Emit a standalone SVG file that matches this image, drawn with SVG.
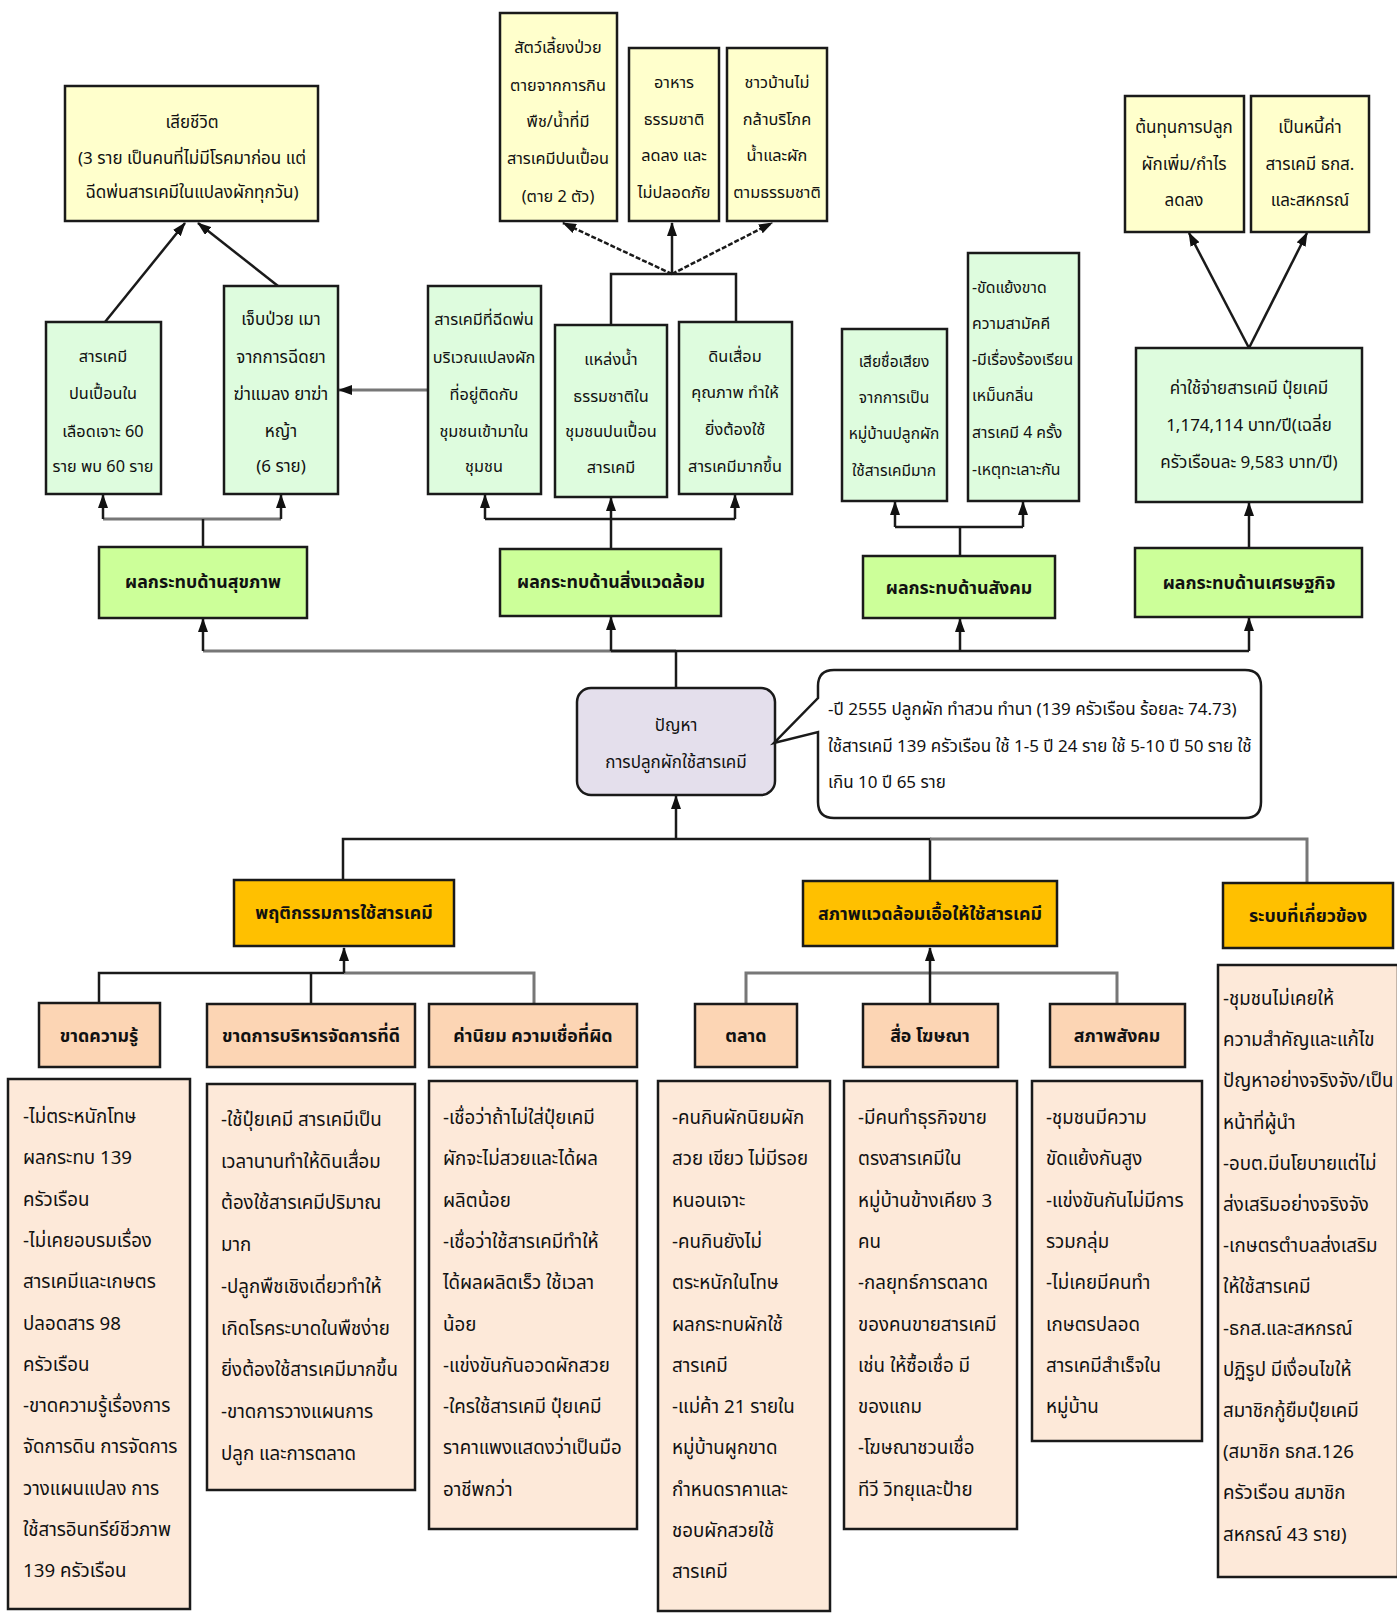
<svg xmlns="http://www.w3.org/2000/svg" width="1397" height="1614" viewBox="0 0 1397 1614">
<defs>
<marker id="ah" viewBox="0 0 14 10" refX="13" refY="5" markerWidth="14" markerHeight="10" markerUnits="userSpaceOnUse" orient="auto"><path d="M0,0 L14,5 L0,10 z" fill="#111"/></marker>
</defs>
<style>
text{font-family:"Noto Sans Thai","Noto Sans","DejaVu Sans",sans-serif;fill:#111;dominant-baseline:central}
.c{text-anchor:middle}
.s{font-size:17px}
.s2{font-size:16.3px}
.h{font-size:17.8px;font-weight:bold}
.d{font-size:18.7px}
.box{stroke:#1a1a1a;stroke-width:2.5}
.yl{fill:#FFFFCC}
.gn{fill:#DEFCDE}
.lg{fill:#CCFF99}
.or{fill:#FFC000}
.pc{fill:#FCD5B4}
.lp{fill:#FDE9D9}
.cn{fill:#E4DFEC}
.ln{fill:none;stroke:#1a1a1a;stroke-width:2.5}
.lgr{fill:none;stroke:#777;stroke-width:3}
.ar{marker-end:url(#ah)}
.ds{stroke-dasharray:5 2}
</style>

<g id="connectors">
<line class="ln ar" x1="105" y1="322" x2="185" y2="223"/>
<line class="ln ar" x1="278" y1="286" x2="198" y2="223"/>
<line class="lgr ar" x1="428" y1="390" x2="339" y2="390"/>
<polyline class="ln" points="611,325 611,274 736,274 736,322"/>
<line class="ln ar ds" x1="672" y1="274" x2="563" y2="223"/>
<line class="ln ar" x1="672" y1="274" x2="672" y2="223"/>
<line class="ln ar ds" x1="672" y1="274" x2="772" y2="223"/>
<line class="ln ar" x1="1249" y1="348" x2="1189" y2="233"/>
<line class="ln ar" x1="1249" y1="348" x2="1307" y2="233"/>
<polyline class="lgr" points="103,519 281,519"/>
<line class="ln ar" x1="103" y1="519" x2="103" y2="495"/>
<line class="ln ar" x1="281" y1="519" x2="281" y2="495"/>
<line class="ln" x1="203" y1="519" x2="203" y2="547"/>
<polyline class="ln" points="485,519 735,519"/>
<line class="ln ar" x1="485" y1="519" x2="485" y2="495"/>
<line class="ln ar" x1="611" y1="519" x2="611" y2="498"/>
<line class="ln ar" x1="735" y1="519" x2="735" y2="495"/>
<line class="ln" x1="611" y1="519" x2="611" y2="549"/>
<polyline class="ln" points="895,527 1023,527"/>
<line class="ln ar" x1="895" y1="527" x2="895" y2="502"/>
<line class="ln ar" x1="1023" y1="527" x2="1023" y2="502"/>
<line class="ln" x1="960" y1="527" x2="960" y2="556"/>
<line class="ln ar" x1="1249" y1="548" x2="1249" y2="503"/>
<polyline class="lgr" points="203,651 676,651"/>
<polyline class="ln" points="611,651 1249,651"/>
<line class="ln ar" x1="203" y1="651" x2="203" y2="619"/>
<line class="ln ar" x1="611" y1="651" x2="611" y2="617"/>
<line class="ln ar" x1="960" y1="651" x2="960" y2="619"/>
<line class="ln ar" x1="1249" y1="651" x2="1249" y2="618"/>
<line class="ln" x1="676" y1="688" x2="676" y2="651"/>
<polyline class="ln" points="343,880 343,839 930,839 930,881"/>
<polyline class="lgr" points="930,839 1307,839 1307,883"/>
<line class="ln ar" x1="676" y1="839" x2="676" y2="796"/>
<polyline class="ln" points="99,1003 99,973 344,973"/>
<polyline class="lgr" points="344,973 534,973 534,1004"/>
<line class="ln" x1="311" y1="973" x2="311" y2="1004"/>
<line class="ln ar" x1="344" y1="973" x2="344" y2="948"/>
<polyline class="lgr" points="746,1004 746,973 1117,973 1117,1004"/>
<line class="ln ar" x1="930" y1="1004" x2="930" y2="948"/>
</g>

<g id="n-death"><rect class="box yl" x="65" y="86" width="253" height="135"/>
<text class="s c"><tspan x="192" y="123">เสียชีวิต</tspan><tspan x="192" y="159">(3 ราย เป็นคนที่ไม่มีโรคมาก่อน แต่</tspan><tspan x="192" y="193">ฉีดพ่นสารเคมีในแปลงผักทุกวัน)</tspan></text></g>

<g id="n-pets"><rect class="box yl" x="500" y="13" width="117" height="208"/>
<text class="s2 c"><tspan x="558" y="48">สัตว์เลี้ยงป่วย</tspan><tspan x="558" y="86">ตายจากการกิน</tspan><tspan x="558" y="122">พืช/น้ำที่มี</tspan><tspan x="558" y="159">สารเคมีปนเปื้อน</tspan><tspan x="558" y="197">(ตาย 2 ตัว)</tspan></text></g>

<g id="n-food"><rect class="box yl" x="629" y="48" width="90" height="173"/>
<text class="s2 c"><tspan x="674" y="83">อาหาร</tspan><tspan x="674" y="120">ธรรมชาติ</tspan><tspan x="674" y="156">ลดลง และ</tspan><tspan x="674" y="193">ไม่ปลอดภัย</tspan></text></g>

<g id="n-villagers"><rect class="box yl" x="727" y="48" width="100" height="173"/>
<text class="s2 c"><tspan x="777" y="83">ชาวบ้านไม่</tspan><tspan x="777" y="120">กล้าบริโภค</tspan><tspan x="777" y="156">น้ำและผัก</tspan><tspan x="777" y="193">ตามธรรมชาติ</tspan></text></g>

<g id="n-cost"><rect class="box yl" x="1125" y="96" width="119" height="136"/>
<text class="s c"><tspan x="1184" y="128">ต้นทุนการปลูก</tspan><tspan x="1184" y="165">ผักเพิ่ม/กำไร</tspan><tspan x="1184" y="201">ลดลง</tspan></text></g>

<g id="n-debt"><rect class="box yl" x="1251" y="96" width="118" height="136"/>
<text class="s c"><tspan x="1310" y="128">เป็นหนี้ค่า</tspan><tspan x="1310" y="165">สารเคมี ธกส.</tspan><tspan x="1310" y="201">และสหกรณ์</tspan></text></g>

<g id="n-blood"><rect class="box gn" x="46" y="322" width="115" height="172"/>
<text class="s2 c"><tspan x="103" y="357">สารเคมี</tspan><tspan x="103" y="394">ปนเปื้อนใน</tspan><tspan x="103" y="432">เลือดเจาะ 60</tspan><tspan x="103" y="467">ราย พบ 60 ราย</tspan></text></g>

<g id="n-sick"><rect class="box gn" x="224" y="286" width="114" height="208"/>
<text class="s c"><tspan x="281" y="320">เจ็บป่วย เมา</tspan><tspan x="281" y="358">จากการฉีดยา</tspan><tspan x="281" y="395">ฆ่าแมลง ยาฆ่า</tspan><tspan x="281" y="432">หญ้า</tspan><tspan x="281" y="467">(6 ราย)</tspan></text></g>

<g id="n-spray"><rect class="box gn" x="428" y="286" width="113" height="208"/>
<text class="s2 c"><tspan x="484" y="320">สารเคมีที่ฉีดพ่น</tspan><tspan x="484" y="358">บริเวณแปลงผัก</tspan><tspan x="484" y="395">ที่อยู่ติดกับ</tspan><tspan x="484" y="432">ชุมชนเข้ามาใน</tspan><tspan x="484" y="467">ชุมชน</tspan></text></g>

<g id="n-water"><rect class="box gn" x="555" y="325" width="112" height="172"/>
<text class="s2 c"><tspan x="611" y="360">แหล่งน้ำ</tspan><tspan x="611" y="397">ธรรมชาติใน</tspan><tspan x="611" y="432">ชุมชนปนเปื้อน</tspan><tspan x="611" y="468">สารเคมี</tspan></text></g>

<g id="n-soil"><rect class="box gn" x="679" y="322" width="113" height="172"/>
<text class="s2 c"><tspan x="735" y="357">ดินเสื่อม</tspan><tspan x="735" y="393">คุณภาพ ทำให้</tspan><tspan x="735" y="430">ยิ่งต้องใช้</tspan><tspan x="735" y="467">สารเคมีมากขึ้น</tspan></text></g>

<g id="n-reputation"><rect class="box gn" x="842" y="329" width="105" height="172"/>
<text class="s2 c" style="font-size:15.5px"><tspan x="894" y="362">เสียชื่อเสียง</tspan><tspan x="894" y="398">จากการเป็น</tspan><tspan x="894" y="434">หมู่บ้านปลูกผัก</tspan><tspan x="894" y="471">ใช้สารเคมีมาก</tspan></text></g>

<g id="n-conflict"><rect class="box gn" x="968" y="253" width="111" height="248"/>
<text class="s2" style="font-size:15.8px"><tspan x="972" y="288">-ขัดแย้งขาด</tspan><tspan x="972" y="324">ความสามัคคี</tspan><tspan x="972" y="360">-มีเรื่องร้องเรียน</tspan><tspan x="972" y="396">เหม็นกลิ่น</tspan><tspan x="972" y="433">สารเคมี 4 ครั้ง</tspan><tspan x="972" y="470">-เหตุทะเลาะกัน</tspan></text></g>

<g id="n-expense"><rect class="box gn" x="1136" y="348" width="226" height="154"/>
<text class="s c"><tspan x="1249" y="389">ค่าใช้จ่ายสารเคมี ปุ๋ยเคมี</tspan><tspan x="1249" y="426">1,174,114 บาท/ปี(เฉลี่ย</tspan><tspan x="1249" y="463">ครัวเรือนละ 9,583 บาท/ปี)</tspan></text></g>

<g id="n-health"><rect class="box lg" x="99" y="547" width="208" height="71"/><text class="h c" x="203" y="582">ผลกระทบด้านสุขภาพ</text></g>
<g id="n-env"><rect class="box lg" x="500" y="549" width="221" height="67"/><text class="h c" x="611" y="582">ผลกระทบด้านสิ่งแวดล้อม</text></g>
<g id="n-social"><rect class="box lg" x="863" y="556" width="192" height="62"/><text class="h c" x="959" y="588">ผลกระทบด้านสังคม</text></g>
<g id="n-econ"><rect class="box lg" x="1135" y="548" width="227" height="69"/><text class="h c" x="1249" y="583">ผลกระทบด้านเศรษฐกิจ</text></g>

<g id="n-problem"><rect class="box cn" x="577" y="688" width="198" height="107" rx="14"/>
<text class="s c"><tspan x="676" y="726">ปัญหา</tspan><tspan x="676" y="763">การปลูกผักใช้สารเคมี</tspan></text></g>

<g id="n-note"><path class="box" fill="#fff" d="M834,670 H1245 Q1261,670 1261,686 V802 Q1261,818 1245,818 H834 Q818,818 818,802 V732 L774,743 L818,698 V686 Q818,670 834,670 Z"/>
<text class="s"><tspan x="828" y="710">-ปี 2555 ปลูกผัก ทำสวน ทำนา (139 ครัวเรือน ร้อยละ 74.73)</tspan><tspan x="828" y="747">ใช้สารเคมี 139 ครัวเรือน ใช้ 1-5 ปี 24 ราย ใช้ 5-10 ปี 50 ราย ใช้</tspan><tspan x="828" y="783">เกิน 10 ปี 65 ราย</tspan></text></g>

<g id="n-behaviour"><rect class="box or" x="234" y="880" width="220" height="66"/><text class="h c" x="344" y="913">พฤติกรรมการใช้สารเคมี</text></g>
<g id="n-environment"><rect class="box or" x="803" y="881" width="254" height="65"/><text class="h c" x="930" y="914">สภาพแวดล้อมเอื้อให้ใช้สารเคมี</text></g>
<g id="n-system"><rect class="box or" x="1223" y="883" width="170" height="65"/><text class="h c" x="1308" y="916">ระบบที่เกี่ยวข้อง</text></g>

<g id="n-knowledge"><rect class="box pc" x="39" y="1003" width="121" height="64"/><text class="h c" x="99" y="1036">ขาดความรู้</text></g>
<g id="n-management"><rect class="box pc" x="207" y="1004" width="208" height="63"/><text class="h c" x="311" y="1036">ขาดการบริหารจัดการที่ดี</text></g>
<g id="n-belief"><rect class="box pc" x="429" y="1004" width="208" height="63"/><text class="h c" x="533" y="1036">ค่านิยม ความเชื่อที่ผิด</text></g>
<g id="n-market"><rect class="box pc" x="695" y="1004" width="102" height="63"/><text class="h c" x="746" y="1036">ตลาด</text></g>
<g id="n-media"><rect class="box pc" x="863" y="1004" width="135" height="63"/><text class="h c" x="930" y="1036">สื่อ โฆษณา</text></g>
<g id="n-society"><rect class="box pc" x="1050" y="1004" width="135" height="63"/><text class="h c" x="1117" y="1036">สภาพสังคม</text></g>

<g id="d-knowledge"><rect class="box lp" x="8" y="1079" width="182" height="530"/>
<text class="d"><tspan x="23" y="1117">-ไม่ตระหนักโทษ</tspan><tspan x="23" y="1158">ผลกระทบ 139</tspan><tspan x="23" y="1200">ครัวเรือน</tspan><tspan x="23" y="1241">-ไม่เคยอบรมเรื่อง</tspan><tspan x="23" y="1282">สารเคมีและเกษตร</tspan><tspan x="23" y="1324">ปลอดสาร 98</tspan><tspan x="23" y="1365">ครัวเรือน</tspan><tspan x="23" y="1406">-ขาดความรู้เรื่องการ</tspan><tspan x="23" y="1447">จัดการดิน การจัดการ</tspan><tspan x="23" y="1489">วางแผนแปลง การ</tspan><tspan x="23" y="1530">ใช้สารอินทรีย์ชีวภาพ</tspan><tspan x="23" y="1571">139 ครัวเรือน</tspan></text></g>

<g id="d-management"><rect class="box lp" x="207" y="1084" width="208" height="406"/>
<text class="d"><tspan x="221" y="1120">-ใช้ปุ๋ยเคมี สารเคมีเป็น</tspan><tspan x="221" y="1162">เวลานานทำให้ดินเสื่อม</tspan><tspan x="221" y="1203">ต้องใช้สารเคมีปริมาณ</tspan><tspan x="221" y="1245">มาก</tspan><tspan x="221" y="1287">-ปลูกพืชเชิงเดี่ยวทำให้</tspan><tspan x="221" y="1329">เกิดโรคระบาดในพืชง่าย</tspan><tspan x="221" y="1370">ยิ่งต้องใช้สารเคมีมากขึ้น</tspan><tspan x="221" y="1412">-ขาดการวางแผนการ</tspan><tspan x="221" y="1454">ปลูก และการตลาด</tspan></text></g>

<g id="d-belief"><rect class="box lp" x="429" y="1081" width="208" height="448"/>
<text class="d"><tspan x="443" y="1118">-เชื่อว่าถ้าไม่ใส่ปุ๋ยเคมี</tspan><tspan x="443" y="1159">ผักจะไม่สวยและได้ผล</tspan><tspan x="443" y="1201">ผลิตน้อย</tspan><tspan x="443" y="1242">-เชื่อว่าใช้สารเคมีทำให้</tspan><tspan x="443" y="1283">ได้ผลผลิตเร็ว ใช้เวลา</tspan><tspan x="443" y="1325">น้อย</tspan><tspan x="443" y="1366">-แข่งขันกันอวดผักสวย</tspan><tspan x="443" y="1407">-ใครใช้สารเคมี ปุ๋ยเคมี</tspan><tspan x="443" y="1448">ราคาแพงแสดงว่าเป็นมือ</tspan><tspan x="443" y="1490">อาชีพกว่า</tspan></text></g>

<g id="d-market"><rect class="box lp" x="658" y="1081" width="172" height="530"/>
<text class="d"><tspan x="672" y="1118">-คนกินผักนิยมผัก</tspan><tspan x="672" y="1159">สวย เขียว ไม่มีรอย</tspan><tspan x="672" y="1201">หนอนเจาะ</tspan><tspan x="672" y="1242">-คนกินยังไม่</tspan><tspan x="672" y="1283">ตระหนักในโทษ</tspan><tspan x="672" y="1325">ผลกระทบผักใช้</tspan><tspan x="672" y="1366">สารเคมี</tspan><tspan x="672" y="1407">-แม่ค้า 21 รายใน</tspan><tspan x="672" y="1448">หมู่บ้านผูกขาด</tspan><tspan x="672" y="1490">กำหนดราคาและ</tspan><tspan x="672" y="1531">ชอบผักสวยใช้</tspan><tspan x="672" y="1572">สารเคมี</tspan></text></g>

<g id="d-media"><rect class="box lp" x="844" y="1081" width="173" height="448"/>
<text class="d"><tspan x="858" y="1118">-มีคนทำธุรกิจขาย</tspan><tspan x="858" y="1159">ตรงสารเคมีใน</tspan><tspan x="858" y="1201">หมู่บ้านข้างเคียง 3</tspan><tspan x="858" y="1242">คน</tspan><tspan x="858" y="1283">-กลยุทธ์การตลาด</tspan><tspan x="858" y="1325">ของคนขายสารเคมี</tspan><tspan x="858" y="1366">เช่น ให้ซื้อเชื่อ มี</tspan><tspan x="858" y="1407">ของแถม</tspan><tspan x="858" y="1448">-โฆษณาชวนเชื่อ</tspan><tspan x="858" y="1490">ทีวี วิทยุและป้าย</tspan></text></g>

<g id="d-society"><rect class="box lp" x="1032" y="1081" width="170" height="360"/>
<text class="d"><tspan x="1046" y="1118">-ชุมชนมีความ</tspan><tspan x="1046" y="1159">ขัดแย้งกันสูง</tspan><tspan x="1046" y="1201">-แข่งขันกันไม่มีการ</tspan><tspan x="1046" y="1242">รวมกลุ่ม</tspan><tspan x="1046" y="1283">-ไม่เคยมีคนทำ</tspan><tspan x="1046" y="1325">เกษตรปลอด</tspan><tspan x="1046" y="1366">สารเคมีสำเร็จใน</tspan><tspan x="1046" y="1407">หมู่บ้าน</tspan></text></g>

<g id="d-system"><rect class="box lp" x="1218" y="965" width="180" height="612"/>
<text class="d"><tspan x="1223" y="999">-ชุมชนไม่เคยให้</tspan><tspan x="1223" y="1040">ความสำคัญและแก้ไข</tspan><tspan x="1223" y="1081">ปัญหาอย่างจริงจัง/เป็น</tspan><tspan x="1223" y="1123">หน้าที่ผู้นำ</tspan><tspan x="1223" y="1164">-อบต.มีนโยบายแต่ไม่</tspan><tspan x="1223" y="1205">ส่งเสริมอย่างจริงจัง</tspan><tspan x="1223" y="1246">-เกษตรตำบลส่งเสริม</tspan><tspan x="1223" y="1287">ให้ใช้สารเคมี</tspan><tspan x="1223" y="1329">-ธกส.และสหกรณ์</tspan><tspan x="1223" y="1370">ปฏิรูป มีเงื่อนไขให้</tspan><tspan x="1223" y="1411">สมาชิกกู้ยืมปุ๋ยเคมี</tspan><tspan x="1223" y="1452">(สมาชิก ธกส.126</tspan><tspan x="1223" y="1493">ครัวเรือน  สมาชิก</tspan><tspan x="1223" y="1535">สหกรณ์ 43 ราย)</tspan></text></g>
</svg>
